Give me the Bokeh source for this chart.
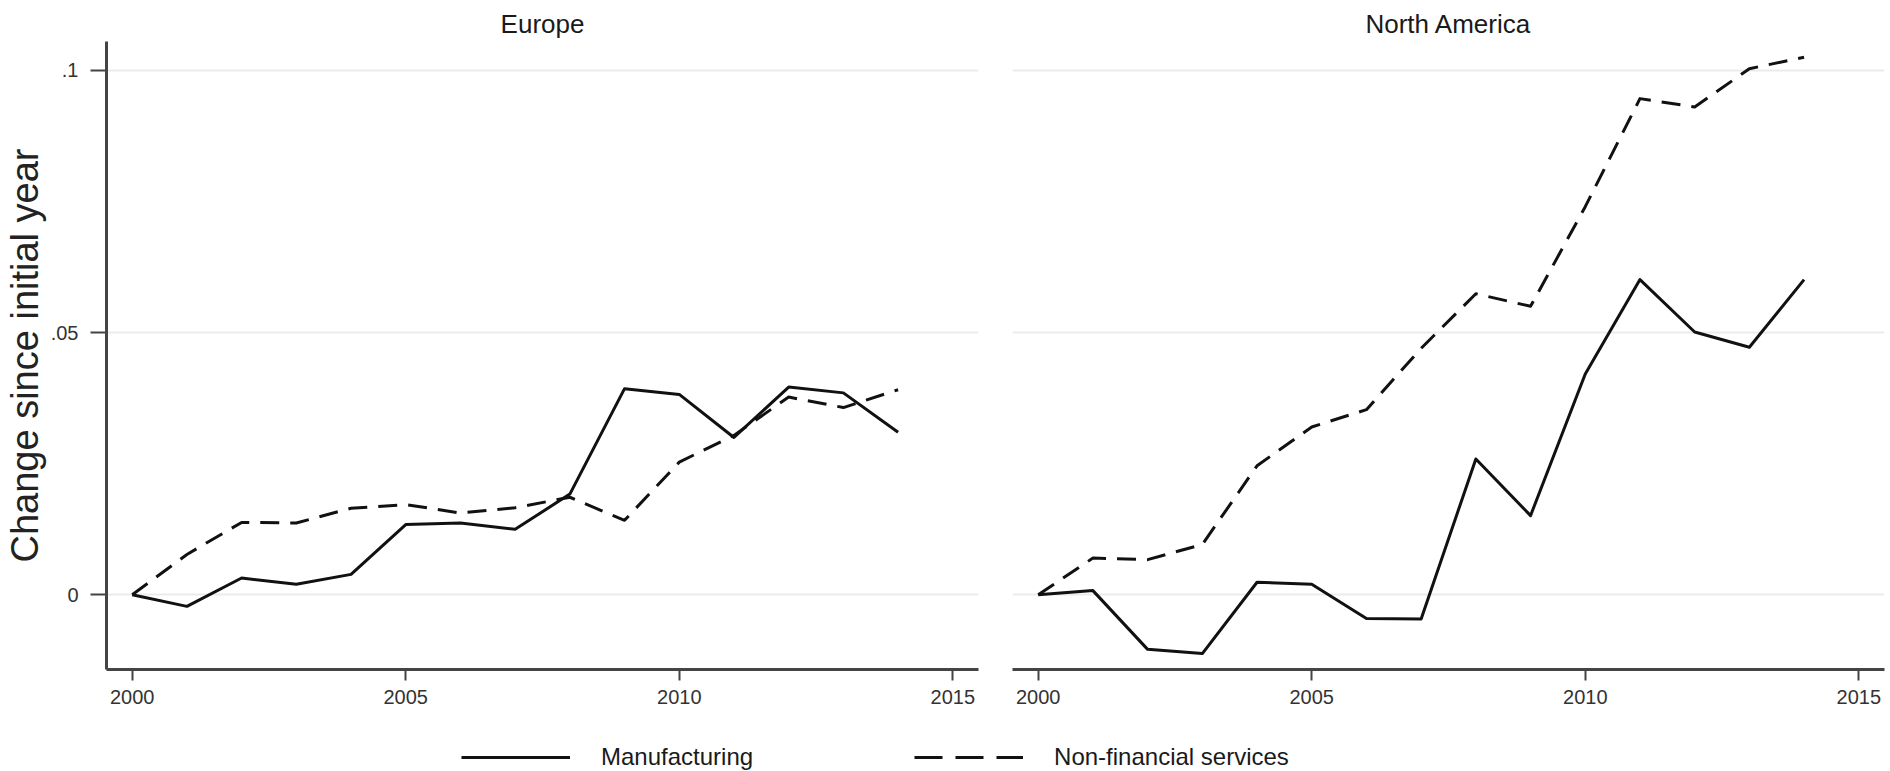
from bokeh.plotting import figure
from bokeh.layouts import row, column
from bokeh.models import Range1d, FixedTicker, Legend, LegendItem, ColumnDataSource
from bokeh.embed import file_html
from bokeh.resources import INLINE

# ---- data ----
years = [2000, 2001, 2002, 2003, 2004, 2005, 2006, 2007,
         2008, 2009, 2010, 2011, 2012, 2013, 2014]

europe_manufacturing = [0.0, -0.0022, 0.0032, 0.0020, 0.0039, 0.0134, 0.0137, 0.0125,
                        0.0192, 0.0393, 0.0382, 0.0300, 0.0396, 0.0385, 0.0310]
europe_services = [0.0, 0.0077, 0.0138, 0.0137, 0.0165, 0.0172, 0.0156, 0.0166,
                   0.0186, 0.0142, 0.0253, 0.0304, 0.0377, 0.0357, 0.0391]

na_manufacturing = [0.0, 0.0008, -0.0104, -0.0112, 0.0024, 0.0020, -0.0045, -0.0046,
                    0.0259, 0.0151, 0.0421, 0.0601, 0.0501, 0.0472, 0.0601]
na_services = [0.0, 0.0070, 0.0067, 0.0096, 0.0246, 0.0320, 0.0353, 0.0470,
               0.0574, 0.0550, 0.0740, 0.0946, 0.0930, 0.1003, 0.1025]

panel_titles = ["Europe", "North America"]
series_labels = ["Manufacturing", "Non-financial services"]
x_ticks = [2000, 2005, 2010, 2015]
y_ticks = [0, 0.05, 0.1]
y_tick_labels = {0: "0", 0.05: ".05", 0.1: ".1"}
y_axis_title = "Change since initial year"

FONT = "Liberation Sans"
AXIS_COLOR = "#444444"
GRID_COLOR = "#ebebeb"
LINE_COLOR = "#111111"
DASH = "19 11"

X_RANGE = (1999.53, 2015.47)
Y_RANGE = (-0.01424, 0.10549)


def make_panel(title, mfg, svc, left_border, right_border, show_y):
    p = figure(frame_width=872, frame_height=628,
               x_range=Range1d(*X_RANGE), y_range=Range1d(*Y_RANGE),
               min_border_left=left_border, min_border_right=right_border,
               min_border_top=41, min_border_bottom=51,
               toolbar_location=None, output_backend="svg",
               outline_line_color=None, title=title,
               background_fill_color="white", border_fill_color="white")
    p.title.align = "center"
    p.title.text_font = FONT
    p.title.text_font_size = "26px"
    p.title.text_font_style = "normal"
    p.title.text_color = "#1a1a1a"
    p.title.standoff = 6

    p.xgrid.visible = False
    p.ygrid.ticker = FixedTicker(ticks=y_ticks)
    p.ygrid.grid_line_color = GRID_COLOR
    p.ygrid.grid_line_width = 2

    xa = p.xaxis[0]
    xa.ticker = FixedTicker(ticks=x_ticks)
    xa.major_tick_out = 11
    xa.major_tick_in = 0
    xa.minor_tick_out = 0
    xa.minor_tick_in = 0
    xa.axis_line_color = AXIS_COLOR
    xa.axis_line_width = 3
    xa.major_tick_line_color = AXIS_COLOR
    xa.major_tick_line_width = 2
    xa.major_label_text_font = FONT
    xa.major_label_text_font_size = "20px"
    xa.major_label_text_color = "#333333"
    xa.major_label_standoff = 9

    ya = p.yaxis[0]
    ya.ticker = FixedTicker(ticks=y_ticks)
    if show_y:
        ya.major_label_overrides = y_tick_labels
        ya.major_tick_out = 16
        ya.major_tick_in = 0
        ya.minor_tick_out = 0
        ya.minor_tick_in = 0
        ya.axis_line_color = AXIS_COLOR
        ya.axis_line_width = 3
        ya.major_tick_line_color = AXIS_COLOR
        ya.major_tick_line_width = 2
        ya.major_label_text_font = FONT
        ya.major_label_text_font_size = "20px"
        ya.major_label_text_color = "#333333"
        ya.major_label_standoff = 12
        ya.axis_label = y_axis_title
        ya.axis_label_text_font = FONT
        ya.axis_label_text_font_size = "38px"
        ya.axis_label_text_font_style = "normal"
        ya.axis_label_text_color = "#222222"
        ya.axis_label_standoff = 2
    else:
        ya.visible = False

    src = ColumnDataSource(dict(x=years, m=mfg, s=svc))
    p.line("x", "m", source=src, line_color=LINE_COLOR, line_width=3,
           line_join="round")
    p.line("x", "s", source=src, line_color=LINE_COLOR, line_width=3,
           line_dash=DASH, line_join="round")
    return p


p1 = make_panel(panel_titles[0], europe_manufacturing, europe_services, 106, 17, True)
p2 = make_panel(panel_titles[1], na_manufacturing, na_services, 17, 6, False)

# ---- legend strip (series drawn outside its visible range; only the key shows) ----
pleg = figure(width=1890, height=51, x_range=Range1d(0, 1), y_range=Range1d(0, 1),
              x_axis_type=None, y_axis_type=None, toolbar_location=None,
              output_backend="svg", min_border=0, outline_line_color=None,
              background_fill_color="white", border_fill_color="white")
pleg.grid.visible = False
leg_src = ColumnDataSource(dict(x=years, m=europe_manufacturing, s=europe_services))
r_m = pleg.line("x", "m", source=leg_src, line_color=LINE_COLOR, line_width=3)
r_s = pleg.line("x", "s", source=leg_src, line_color=LINE_COLOR, line_width=3,
                line_dash="28 13")
legend = Legend(items=[LegendItem(label=series_labels[0], renderers=[r_m]),
                       LegendItem(label=series_labels[1], renderers=[r_s])],
                orientation="horizontal", location=(461, 0),
                glyph_width=109, glyph_height=28, label_height=28,
                label_standoff=31, spacing=161, padding=0, margin=0,
                border_line_alpha=0, background_fill_alpha=0,
                label_text_font=FONT, label_text_font_size="24px",
                label_text_color="#1a1a1a")
pleg.add_layout(legend, "center")

layout = column(row(p1, p2), pleg)

open("out.html", "w").write(file_html(layout, INLINE))
